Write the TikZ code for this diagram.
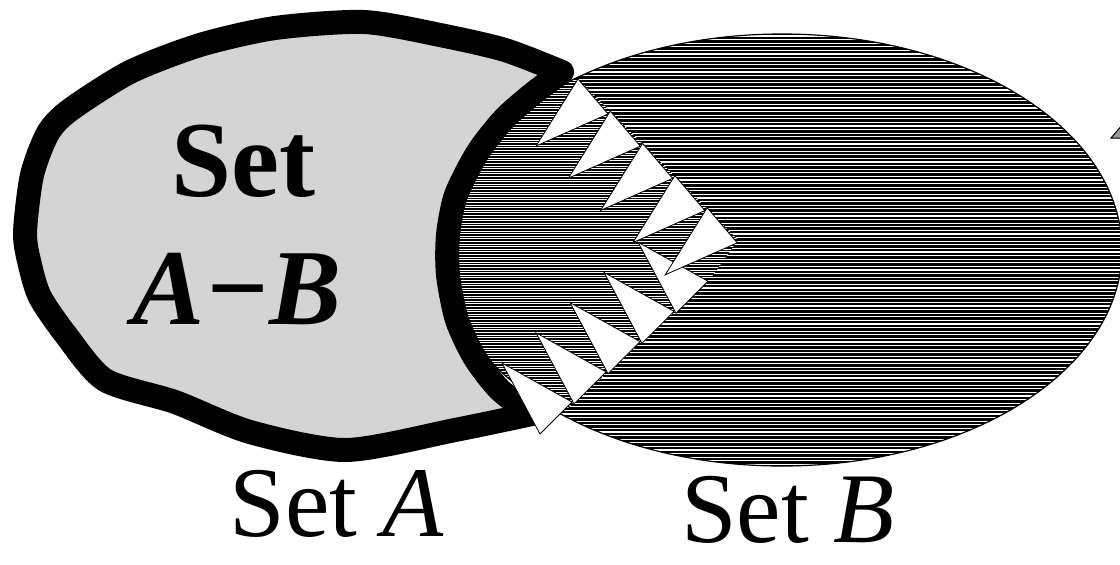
\documentclass[tikz,border=0pt]{standalone}
\usepackage{fontspec}
\setmainfont{Liberation Serif}

\begin{document}
\begin{tikzpicture}[
x=0.5pt, y=-0.5pt,
setA/.style={fill=black!17, draw=black, line width=12pt, line join=round},
setB/.style={draw=black, line width=0.6pt},
hatch/.style={white, line width=0.55pt},
densehatch/.style={white, line width=0.35pt},
tooth/.style={fill=white, draw=black, line width=0.4pt},
marker/.style={fill=black!40, draw=black, line width=0.5pt},
innerlabel/.style={font=\fontsize{54}{60}\selectfont\bfseries, anchor=base, inner sep=0pt},
biglabel/.style={font=\fontsize{50}{56}\selectfont, anchor=base, inner sep=0pt}
]
\useasboundingbox (0,0) rectangle (1120,564);
% set B, hatched
\fill[black] (782,250) ellipse [x radius=170pt, y radius=108pt];
\begin{scope}
\clip (782,250) ellipse [x radius=170pt, y radius=108pt];
\foreach \y in {36,39.6,...,468}
  \draw[hatch] (430,\y) -- (1130,\y);
\end{scope}
% overlap part, finer hatching
\begin{scope}
\clip (782,250) ellipse [x radius=170pt, y radius=108pt];
\clip (540,20) -- (578,79) -- (738,240) -- (708,282) -- (540,433) -- (420,440) -- (420,20) -- cycle;
\fill[black] (420,20) rectangle (760,450);
\foreach \y in {36,38.6,...,440}
  \draw[densehatch] (420,\y) -- (760,\y);
\end{scope}
\draw[setB] (782,250) ellipse [x radius=170pt, y radius=108pt];
% set A - B
\draw[setA] plot[smooth, tension=0.45] coordinates {(562,72) (505,50) (440,35) (364,22) (275,28) (200,45) (130,72) (70,110) (48,133) (32,175) (25,233) (30,265) (40,297) (66,335) (105,380) (175,402) (250,432) (346,450) (455,430) (532,414)}
  -- plot[smooth, tension=0.45] coordinates {(532,414) (500,390) (475,358) (457,320) (448,275) (448,235) (456,195) (478,152) (505,118) (535,92) (562,72)}
  -- cycle;
% arrowheads along the cut
\foreach \i in {0,...,4}
  \draw[tooth] ({502+34*\i},{363-30.2*\i}) -- ++(70,39) -- ++(-32,32) -- cycle;
\foreach \i in {0,...,4}
  \draw[tooth] ({578+32.3*\i},{79+32.2*\i}) -- ++(30,35) -- ++(-72,32) -- cycle;
\draw[marker] (1111,138) -- (1123,124) -- (1123,138) -- cycle;
% labels
\node[innerlabel] (setword) at (243,196) {Set};
\node[innerlabel] (difference) at (237,324) {\itshape A−B};
\node[biglabel] (labelA) at (337,536) {Set \textit{A}};
\node[biglabel] (labelB) at (788,542) {Set \textit{B}};
\end{tikzpicture}
\end{document}
